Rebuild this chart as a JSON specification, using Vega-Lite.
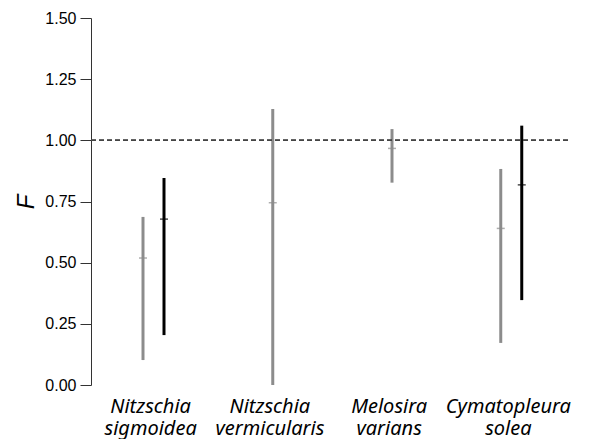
{
  "$schema": "https://vega.github.io/schema/vega-lite/v6.json",
  "width": 477,
  "height": 367,
  "autosize": "none",
  "padding": {"left": 91, "top": 18, "right": 28, "bottom": 54},
  "background": "white",
  "config": {"view": {"stroke": null}},
  "data": {
    "values": [
      {"species": "Nitzschia sigmoidea", "group": "a", "lo": 0.102, "hi": 0.687, "med": 0.519},
      {"species": "Nitzschia sigmoidea", "group": "b", "lo": 0.204, "hi": 0.846, "med": 0.678},
      {"species": "Nitzschia vermicularis", "group": "s", "lo": 0.0, "hi": 1.128, "med": 0.745},
      {"species": "Melosira varians", "group": "s", "lo": 0.827, "hi": 1.046, "med": 0.967},
      {"species": "Cymatopleura solea", "group": "a", "lo": 0.172, "hi": 0.883, "med": 0.640},
      {"species": "Cymatopleura solea", "group": "b", "lo": 0.347, "hi": 1.06, "med": 0.818}
    ]
  },
  "encoding": {
    "x": {
      "field": "species",
      "type": "nominal",
      "sort": ["Nitzschia sigmoidea", "Nitzschia vermicularis", "Melosira varians", "Cymatopleura solea"],
      "scale": {"paddingInner": 0, "paddingOuter": 0},
      "axis": {
        "title": null,
        "domain": false,
        "ticks": false,
        "labelAngle": 0,
        "labelExpr": "split(datum.label, ' ')",
        "labelFont": "Noto Sans",
        "labelFontStyle": "italic",
        "labelFontSize": 20,
        "labelColor": "#000",
        "labelPadding": 11,
        "labelLineHeight": 22,
        "labelOverlap": false,
        "labelBound": false
      }
    },
    "xOffset": {
      "field": "group",
      "type": "nominal",
      "scale": {"type": "point", "domain": ["a", "s", "b"], "range": [52, 73], "padding": 0},
      "legend": null
    },
    "color": {
      "field": "group",
      "type": "nominal",
      "scale": {"domain": ["a", "s", "b"], "range": ["#8c8c8c", "#8c8c8c", "#000000"]},
      "legend": null
    }
  },
  "layer": [
    {
      "mark": {"type": "rule", "strokeWidth": 3},
      "encoding": {
        "y": {
          "field": "lo",
          "type": "quantitative",
          "scale": {"domain": [0, 1.5], "nice": false},
          "axis": {
            "title": "F",
            "titleFont": "Liberation Sans",
            "titleFontStyle": "italic",
            "titleFontWeight": "normal",
            "titleFontSize": 24,
            "titleColor": "#000",
            "titlePadding": 6,
            "values": [0, 0.25, 0.5, 0.75, 1, 1.25, 1.5],
            "format": ".2f",
            "grid": false,
            "domainColor": "#333",
            "tickColor": "#333",
            "tickSize": 11,
            "labelPadding": 4,
            "labelFont": "Liberation Sans",
            "labelFontSize": 16,
            "labelColor": "#000"
          }
        },
        "y2": {"field": "hi"}
      }
    },
    {
      "mark": {"type": "tick", "thickness": 1.5, "size": 8},
      "encoding": {
        "y": {"field": "med", "type": "quantitative"}
      }
    },
    {
      "mark": {"type": "rule", "strokeDash": [5, 3], "color": "#444", "strokeWidth": 1.2},
      "encoding": {"y": {"datum": 1}, "x": null, "xOffset": null, "color": null}
    }
  ]
}
